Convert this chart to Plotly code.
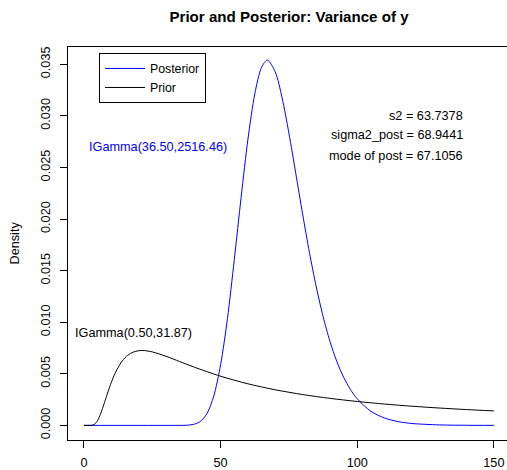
import plotly.graph_objects as go

# Inverse-gamma densities for the variance of y
prior_x = [0, 2, 3, 4, 5, 6, 7, 8, 9, 10, 11, 12, 14, 16, 18, 20, 22, 25, 30, 35,
           40, 50, 60, 70, 80, 90, 100, 110, 120, 130, 140, 150]
prior_y = [0, 0.0, 0.000015, 0.000138, 0.000486, 0.001069, 0.001813, 0.002621,
           0.003419, 0.004158, 0.004817, 0.005383, 0.006243, 0.006790, 0.007100,
           0.007236, 0.007251, 0.007121, 0.006699, 0.006188, 0.005676, 0.004763,
           0.004029, 0.003449, 0.002988, 0.002618, 0.002316, 0.002066, 0.001858,
           0.001682, 0.001531, 0.001402]

post_x = [0, 30, 35, 37.5, 40, 42.5, 45, 47.5, 50, 52.5, 55, 57.5, 60, 62.5, 65,
          67.1, 70, 72.5, 75, 77.5, 80, 82.5, 85, 87.5, 90, 92.5, 95, 97.5, 100,
          105, 110, 115, 120, 130, 140, 150]
post_y = [0, 0, 0.0000016, 0.0000147, 0.000087, 0.000362, 0.00114, 0.00285,
          0.00588, 0.01035, 0.01605, 0.02210, 0.02774, 0.03212, 0.03472, 0.03540,
          0.03425, 0.03174, 0.02831, 0.02443, 0.02049, 0.01676, 0.01342, 0.01055,
          0.00815, 0.00621, 0.00467, 0.00348, 0.00257, 0.001366, 0.00071,
          0.000362, 0.000183, 0.0000456, 0.00001, 0.0000025]

x_ticks = [0, 50, 100, 150]
y_ticks = [0.000, 0.005, 0.010, 0.015, 0.020, 0.025, 0.030, 0.035]

stats_lines = ["s2 = 63.7378", "sigma2_post = 68.9441", "mode of post = 67.1056"]
stats_y = [0.0300, 0.0281, 0.0261]
post_label = "IGamma(36.50,2516.46)"
prior_label = "IGamma(0.50,31.87)"

FONT = "Liberation Sans, Arial, Helvetica, sans-serif"
TXT = 12.7

fig = go.Figure()
fig.add_trace(go.Scatter(x=post_x, y=post_y, mode="lines", name="Posterior",
                         line=dict(color="#0000FF", width=1, shape="spline", smoothing=0.8)))
fig.add_trace(go.Scatter(x=prior_x, y=prior_y, mode="lines", name="Prior",
                         line=dict(color="black", width=1, shape="spline", smoothing=0.8)))

annotations = []
for txt, yy in zip(stats_lines, stats_y):
    annotations.append(dict(x=139.3, y=yy, xref="x", yref="y", text=txt,
                            showarrow=False, xanchor="right", yanchor="middle",
                            font=dict(size=TXT, color="black")))
annotations.append(dict(x=27.0, y=0.0270, xref="x", yref="y", text=post_label,
                        showarrow=False, xanchor="center", yanchor="middle",
                        font=dict(size=TXT, color="#0000FF")))
annotations.append(dict(x=18.0, y=0.0090, xref="x", yref="y", text=prior_label,
                        showarrow=False, xanchor="center", yanchor="middle",
                        font=dict(size=TXT, color="black")))
annotations.append(dict(x=-54 / 439, y=0.5, xref="paper", yref="paper", text="Density",
                        showarrow=False, textangle=-90, xanchor="center", yanchor="middle",
                        font=dict(size=TXT, color="black")))

fig.update_layout(
    width=507, height=470,
    margin=dict(l=68, r=0, t=47, b=28),
    paper_bgcolor="white", plot_bgcolor="white",
    font=dict(family=FONT, size=TXT, color="black"),
    title=dict(text="<b>Prior and Posterior: Variance of y</b>",
               x=(289 - 68) / 439, xref="paper", xanchor="center",
               y=1 - 17 / 470, yref="container", yanchor="middle",
               font=dict(size=15.1, color="black")),
    showlegend=True,
    legend=dict(x=(99 - 68) / 439, y=1 - (53 - 47) / 395, xanchor="left", yanchor="top",
                bordercolor="black", borderwidth=1, bgcolor="white",
                font=dict(size=12.3), tracegroupgap=0, itemwidth=40),
    annotations=annotations,
)

fig.update_xaxes(range=[-5.85, 154.8], tickvals=x_ticks, ticktext=[str(v) for v in x_ticks],
                 ticks="outside", ticklen=7, tickcolor="black", tickwidth=1,
                 showline=True, linecolor="black", linewidth=1, mirror=True,
                 showgrid=False, zeroline=False, ticklabelstandoff=4)
fig.update_yaxes(range=[-0.001417, 0.03667], tickvals=y_ticks,
                 ticktext=[f"{v:.3f}" for v in y_ticks], tickangle=-90,
                 ticks="outside", ticklen=7, tickcolor="black", tickwidth=1,
                 showline=True, linecolor="black", linewidth=1, mirror=False,
                 showgrid=False, zeroline=False, ticklabelstandoff=5)

fig.write_html("out.html")
